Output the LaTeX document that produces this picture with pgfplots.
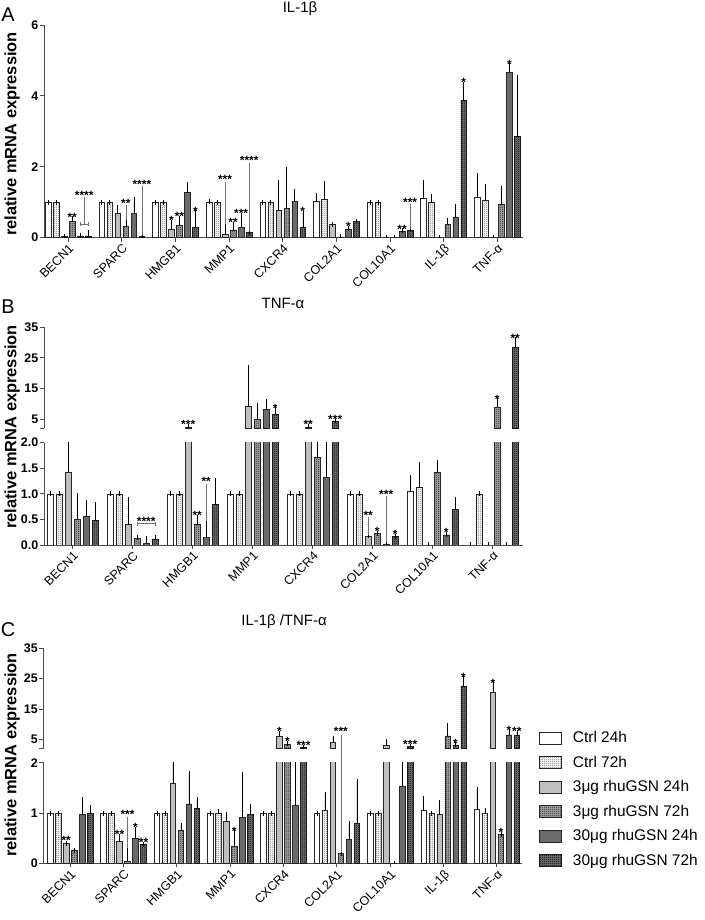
\documentclass[border=0pt]{standalone}
\usepackage{pgfplots}
\pgfplotsset{compat=1.18}
\usepackage{pgfplotstable}
\usepackage{fontspec}
\setmainfont{Liberation Sans}
\usetikzlibrary{patterns}

\pgfdeclarepatternformonly{finecheck}{\pgfpointorigin}{\pgfqpoint{2bp}{2bp}}{\pgfqpoint{2bp}{2bp}}{%
  \pgfpathrectangle{\pgfpointorigin}{\pgfqpoint{1bp}{1bp}}%
  \pgfpathrectangle{\pgfqpoint{1bp}{1bp}}{\pgfqpoint{1bp}{1bp}}%
  \pgfusepath{fill}}

% columns: category, Ctrl24h, Ctrl72h, 3ug24h, 3ug72h, 30ug24h, 30ug72h (value + SEM)
\pgfplotstableread{
x c24 c24e c72 c72e l24 l24e l72 l72e h24 h24e h72 h72e
0 1 0 1 0 0.03 0 0.45 0.08 0.05 0 0.05 0.09
1 1 0 1 0 0.69 0.15 0.31 0.15 0.69 0.40 0.04 0.02
2 1 0 1 0 0.24 0.20 0.36 0.18 1.27 0.23 0.30 0.40
3 1 0.02 1 0 0.10 0.28 0.22 0.16 0.30 0.33 0.15 0
4 1 0 1 0 0.76 0.79 0.83 1.10 1.03 0.27 0.30 0.39
5 1.02 0.18 1.08 0.45 0.37 0 0.02 0 0.25 0.02 0.45 0.02
6 1 0 1 0 0 0 0 0 0.17 0.03 0.20 0.02
7 1.11 0.46 1.01 0.14 0 0 0.38 0.10 0.59 0.30 3.88 0.44
8 1.15 0.60 1.06 0.38 0 0 0.95 0.44 4.66 0.19 2.85 1.68
}\tA
\pgfplotstableread{
x c24 c24e c72 c72e l24 l24e l72 l72e h24 h24e h72 h72e
0 1 0 1 0 1.43 0.85 0.50 0.46 0.57 0.27 0.48 0.31
1 1 0 1 0 0.40 0.49 0.13 0.02 0.03 0.09 0.12 0.03
2 1 0 1 0 2.40 0.10 0.40 0.13 0.15 0.30 0.80 0.47
3 1 0 1 0 9.30 12.7 4.80 4.80 8.30 2.40 6.60 1.40
4 1 0 1 0 2.50 0.10 1.72 0.60 1.32 1.20 4.20 0.20
5 1 0 1 0 0.17 0.02 0.22 0 0.02 0 0.17 0
6 1.05 0.26 1.12 0.45 0 0 1.42 0.20 0.20 0 0.69 0.19
7 0 0 1 0 0 0 8.90 2.10 0 0 28.4 2.70
}\tB
\pgfplotstableread{
x c24 c24e c72 c72e l24 l24e l72 l72e h24 h24e h72 h72e
0 1 0 1 0 0.40 0 0.25 0 0.98 0.28 1.00 0.11
1 1 0 1 0 0.43 0.11 0.05 0.23 0.50 0.18 0.38 0
2 1 0 1 0 1.59 0.80 0.65 0.10 1.18 0.60 1.09 0.18
3 1 0 0.99 0.04 0.84 0.14 0.33 0.28 0.91 0.85 0.97 0.16
4 1 0 1 0 5.90 1.10 3.30 0.40 1.16 1.20 2.40 0
5 1 0 1.05 0.32 3.90 1.20 0.20 0 0.47 0.33 0.80 0.83
6 1 0 1 0 2.90 1.30 0 0 1.53 1.00 2.60 0
7 1.05 0.23 1.00 0 0.97 0.24 6.10 3.40 3.10 0 22.4 2.50
8 1.08 0.39 1.00 0.04 20.5 2.60 0.58 0 6.40 1.10 6.40 0.90
}\tC

\tikzset{
  sigstar/.style={font=\bfseries\fontsize{12}{12}\selectfont, anchor=south, inner sep=0pt, yshift=-3bp},
  sigline/.style={black!55, line width=0.6bp},
}
\pgfplotsset{
  legimg/.style={legend image code/.code={\draw[##1] (0bp,-6bp) rectangle (22bp,6bp);}},
  sA/.style={fill=white, draw=black!85, line width=0.5bp, legimg},
  sB/.style={fill=white, draw=black!85, line width=0.5bp, legimg,
     postaction={pattern=finecheck, pattern color=black!55}},
  sC/.style={fill=black!25, draw=black!85, line width=0.5bp, legimg},
  sD/.style={fill=black!35, draw=black!85, line width=0.5bp, legimg,
     postaction={pattern=finecheck, pattern color=black!85}},
  sE/.style={fill=black!58, draw=black!85, line width=0.5bp, legimg},
  sF/.style={fill=black!55, draw=black!90, line width=0.5bp, legimg,
     postaction={pattern=finecheck, pattern color=black}},
  base/.style={
    scale only axis, width=479bp,
    ybar, bar width=0.105,
    clip mode=individual,
    axis y line*=left,
    axis line style={black!70, line width=0.8bp},
    every tick/.style={black!70, line width=0.8bp},
    tick align=outside, major tick length=4bp,
    yticklabel style={font=\bfseries\fontsize{12.5}{14}\selectfont, inner sep=1.5bp},
    xticklabel style={rotate=45, anchor=north east, font=\fontsize{12.5}{14}\selectfont, inner sep=1bp},
    /pgf/number format/assume math mode=true,
    error bars/y dir=plus, error bars/y explicit,
    error bars/error bar style={black, line width=0.6bp},
    error bars/error mark options={black, line width=0.6bp, mark size=2.5bp},
  },
  upper/.style={base, axis x line=none, ymin=2, ymax=35, ytick={5,15,25,35},
    extra y ticks={2}, extra y tick labels={},
    y filter/.expression={y<2 ? nan : y}},
  lower/.style={base, axis x line*=bottom, ymin=0, ymax=2},
}
\newcommand\sgs[3]{\node[sigstar] at (axis cs:#1,#2) {#3};}
\newcommand\sgl[3]{\draw[sigline] (axis cs:#1,#2) -- (axis cs:#1,#3);}
\newcommand\sgb[3]{\draw[sigline] (axis cs:#1,#3) -- (axis cs:#2,#3);
  \draw[sigline] ([yshift=-2bp]axis cs:#1,#3) -- ([yshift=2bp]axis cs:#1,#3);
  \draw[sigline] ([yshift=-2bp]axis cs:#2,#3) -- ([yshift=2bp]axis cs:#2,#3);}
\newcommand\sixbars[1]{%
  \addplot[sA, bar shift=-0.375] table[x=x,y=c24,y error=c24e]{#1};
  \addplot[sB, bar shift=-0.225] table[x=x,y=c72,y error=c72e]{#1};
  \addplot[sC, bar shift=-0.075] table[x=x,y=l24,y error=l24e]{#1};
  \addplot[sD, bar shift=0.075] table[x=x,y=l72,y error=l72e]{#1};
  \addplot[sE, bar shift=0.225] table[x=x,y=h24,y error=h24e]{#1};
  \addplot[sF, bar shift=0.375] table[x=x,y=h72,y error=h72e]{#1};
}

\begin{document}
\begin{tikzpicture}
\path[use as bounding box] (0,0) rectangle (705bp,920bp);

% ---------- Panel A ----------
\node[font=\fontsize{20}{22}\selectfont] at (8bp,905bp) {A};
\node[font=\fontsize{15}{17}\selectfont] at (300bp,911bp) {IL-1β};
\node[rotate=90, font=\bfseries\fontsize{16.5}{20}\selectfont] at (12bp,786bp) {relative mRNA expression};
\begin{axis}[lower, at={(44bp,682.3bp)}, anchor=south west, height=212.7bp,
  xmin=-0.45, xmax=8.48, ymin=0, ymax=6, ytick={0,2,4,6},
  xtick={0,...,8},
  xticklabels={BECN1,SPARC,HMGB1,MMP1,CXCR4,COL2A1,COL10A1,IL-1β,TNF-α}]
\sixbars{\tA}
\sgs{0.075}{0.53}{**}
\sgb{0.225}{0.375}{0.38}\sgl{0.3}{0.38}{1.15}\sgs{0.3}{1.17}{****}
\sgl{1.075}{0.5}{0.92}\sgs{1.075}{0.93}{**}
\sgl{1.375}{0.08}{1.45}\sgs{1.375}{1.46}{****}
\sgs{1.925}{0.45}{*}\sgs{2.075}{0.55}{**}\sgs{2.375}{0.71}{*}
\sgl{2.925}{0.4}{1.58}\sgs{2.925}{1.6}{***}
\sgs{3.075}{0.4}{**}\sgs{3.225}{0.65}{***}
\sgl{3.375}{0.18}{2.12}\sgs{3.375}{2.13}{****}
\sgs{4.375}{0.7}{*}
\sgs{5.225}{0.28}{*}
\sgs{6.225}{0.21}{**}\sgl{6.375}{0.25}{0.95}\sgs{6.375}{0.96}{***}
\sgs{7.375}{4.33}{*}
\sgs{8.225}{4.86}{*}
\end{axis}

% ---------- Panel B ----------
\node[font=\fontsize{20}{22}\selectfont] at (8bp,613bp) {B};
\node[font=\fontsize{15}{17}\selectfont] at (283bp,617bp) {TNF-α};
\node[rotate=90, font=\bfseries\fontsize{16.5}{20}\selectfont] at (12bp,493bp) {relative mRNA expression};
\begin{axis}[upper, at={(44bp,491.7bp)}, anchor=south west, height=101bp,
  xmin=-0.478, xmax=7.505]
\sixbars{\tB}
\sgs{1.925}{3.0}{***}
\sgs{3.375}{8.0}{*}
\sgs{3.925}{2.7}{**}\sgs{4.375}{4.4}{***}
\sgs{7.075}{11.0}{*}\sgs{7.375}{31.1}{**}
\end{axis}
\begin{axis}[lower, at={(44bp,375bp)}, anchor=south west, height=102.3bp,
  xmin=-0.478, xmax=7.505, ytick={0,0.5,1,1.5,2},
  yticklabel style={/pgf/number format/.cd, fixed, fixed zerofill, precision=1},
  xtick={0,...,7},
  xticklabels={BECN1,SPARC,HMGB1,MMP1,CXCR4,COL2A1,COL10A1,TNF-α}]
\sixbars{\tB}
\sgb{1.075}{1.375}{0.42}\sgs{1.225}{0.43}{****}
\sgs{2.075}{0.55}{**}\sgl{2.225}{0.47}{1.2}\sgs{2.225}{1.21}{**}
\sgl{4.925}{0.2}{0.55}\sgs{4.925}{0.56}{**}
\sgs{5.075}{0.24}{*}
\sgl{5.225}{0.05}{0.95}\sgs{5.225}{0.96}{***}
\sgs{5.375}{0.19}{*}
\sgs{6.225}{0.22}{*}
\end{axis}

% ---------- Panel C ----------
\node[font=\fontsize{20}{22}\selectfont] at (8bp,290bp) {C};
\node[font=\fontsize{15}{17}\selectfont] at (284bp,298bp) {IL-1β /TNF-α};
\node[rotate=90, font=\bfseries\fontsize{16.5}{20}\selectfont] at (12bp,165bp) {relative mRNA expression};
\begin{axis}[upper, at={(43.5bp,171.7bp)}, anchor=south west, height=100bp,
  xmin=-0.5, xmax=8.48]
\sixbars{\tC}
\sgs{3.925}{7.0}{*}\sgs{4.075}{3.7}{*}\sgs{4.375}{2.6}{***}
\sgs{5.075}{7.0}{***}
\sgs{6.375}{2.7}{***}
\sgs{7.225}{3.2}{*}\sgs{7.375}{24.9}{*}
\sgs{7.925}{23.1}{*}\sgs{8.225}{7.5}{*}\sgs{8.375}{7.3}{**}
\end{axis}
\begin{axis}[lower, at={(43.5bp,56.7bp)}, anchor=south west, height=100.6bp,
  xmin=-0.5, xmax=8.48, ytick={0,1,2},
  xtick={0,...,8},
  xticklabels={BECN1,SPARC,HMGB1,MMP1,CXCR4,COL2A1,COL10A1,IL-1β,TNF-α},
  legend style={at={(1.035,1.33)}, anchor=north west, draw=none, fill=none,
    font=\fontsize{15.5}{17}\selectfont, row sep=7.8bp, inner sep=0pt,
    cells={anchor=west},
    /tikz/every odd column/.append style={column sep=9bp}}]
\sixbars{\tC}
\sgs{-0.075}{0.42}{**}
\sgs{0.925}{0.54}{**}\sgl{1.075}{0.3}{0.93}\sgs{1.075}{0.94}{***}
\sgs{1.225}{0.68}{*}\sgs{1.375}{0.39}{**}
\sgs{3.075}{0.61}{*}
\sgl{5.075}{0.22}{2.55}
\sgs{8.075}{0.59}{*}
\legend{Ctrl 24h, Ctrl 72h, 3μg rhuGSN 24h, 3μg rhuGSN 72h, 30μg rhuGSN 24h, 30μg rhuGSN 72h}
\end{axis}
\end{tikzpicture}
\end{document}
